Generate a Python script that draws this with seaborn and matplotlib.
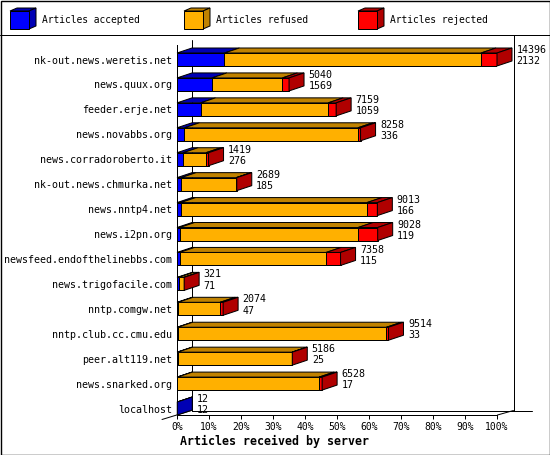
import matplotlib
matplotlib.use("Agg")
import matplotlib.pyplot as plt
from matplotlib.patches import Polygon, Rectangle
from matplotlib.lines import Line2D
import pandas as pd
import seaborn as sns

# ---------------- data ----------------
hosts = [
    "nk-out.news.weretis.net", "news.quux.org", "feeder.erje.net",
    "news.novabbs.org", "news.corradoroberto.it", "nk-out.news.chmurka.net",
    "news.nntp4.net", "news.i2pn.org", "newsfeed.endofthelinebbs.com",
    "news.trigofacile.com", "nntp.comgw.net", "nntp.club.cc.cmu.edu",
    "peer.alt119.net", "news.snarked.org", "localhost",
]
offered = [14396, 5040, 7159, 8258, 1419, 2689, 9013, 9028, 7358, 321, 2074, 9514, 5186, 6528, 12]
accepted = [2132, 1569, 1059, 336, 276, 185, 166, 119, 115, 71, 47, 33, 25, 17, 12]
rejected = [720, 300, 360, 120, 117, 30, 468, 880, 648, 5, 135, 90, 10, 135, 0]
refused = [o - a - r for o, a, r in zip(offered, accepted, rejected)]

tick_values = list(range(0, 101, 10))
tick_labels = [f"{v}%" for v in tick_values]
legend_labels = ["Articles accepted", "Articles refused", "Articles rejected"]
x_title = "Articles received by server"

front_colors = ["#0000FF", "#FFB000", "#FF0000"]
shade_colors = ["#0000B4", "#C08200", "#B00000"]

# ---------------- layout (pixels) ----------------
W, H = 550, 455
X0, X1 = 177, 497
Y_TOP, Y_BOT = 45, 415
ROW0, STEP = 59.5, 24.93
BAR_H_PX = 13
DX_PX, DY_PX = 15, -5
LW = 0.72

sns.set_style("white")
plt.rcParams["font.family"] = ["DejaVu Sans Mono", "DejaVu Sans"]

fig = plt.figure(figsize=(W / 100, H / 100), dpi=100, facecolor="white")

bg = fig.add_axes([0, 0, 1, 1])
bg.set_xlim(0, W)
bg.set_ylim(H, 0)
bg.axis("off")
bg.set_zorder(0)

ax = fig.add_axes([X0 / W, (H - Y_BOT) / H, (X1 - X0) / W, (Y_BOT - Y_TOP) / H])
ax.set_zorder(1)
ax.patch.set_alpha(0)

# ---------------- bars (front faces) ----------------
mx = max(offered)
pct_acc = [100 * a / mx for a in accepted]
pct_accref = [100 * (a + r) / mx for a, r in zip(accepted, refused)]
pct_tot = [100 * o / mx for o in offered]
df = pd.DataFrame({"host": hosts, "acc": pct_acc, "accref": pct_accref, "tot": pct_tot})

bw = BAR_H_PX / STEP
for col, c in zip(["tot", "accref", "acc"], [front_colors[2], front_colors[1], front_colors[0]]):
    sns.barplot(data=df, x=col, y="host", orient="h", color=c, saturation=1,
                edgecolor="black", linewidth=LW, width=bw, errorbar=None, ax=ax)

ax.set_xlim(0, 100)
ax.set_ylim((Y_BOT - ROW0) / STEP, (Y_TOP - ROW0) / STEP)

# ---------------- 3D faces ----------------
xpx = (X1 - X0) / 100.0
DXU = DX_PX / xpx
DYU = DY_PX / STEP
h2 = bw / 2
for i in range(len(hosts)):
    segs = [(0, pct_acc[i], 0), (pct_acc[i], pct_accref[i], 1), (pct_accref[i], pct_tot[i], 2)]
    last = None
    for a, b, k in segs:
        if b - a <= 1e-9:
            continue
        last = k
        yt = i - h2
        ax.add_patch(Polygon([(a, yt), (b, yt), (b + DXU, yt + DYU), (a + DXU, yt + DYU)],
                             closed=True, facecolor=shade_colors[k], edgecolor="black",
                             linewidth=LW, clip_on=False, zorder=3))
    e = pct_tot[i]
    yt, yb = i - h2, i + h2
    ax.add_patch(Polygon([(e, yt), (e + DXU, yt + DYU), (e + DXU, yb + DYU), (e, yb)],
                         closed=True, facecolor=shade_colors[last], edgecolor="black",
                         linewidth=LW, clip_on=False, zorder=3))
    lx = e + DXU + 4.5 / xpx
    ax.text(lx, i - 9.4 / STEP, str(offered[i]), ha="left", va="center", fontsize=7.2,
            color="black", clip_on=False)
    ax.text(lx, i + 1.7 / STEP, str(accepted[i]), ha="left", va="center", fontsize=7.2,
            color="black", clip_on=False)

# ---------------- axes styling ----------------
sns.despine(ax=ax, top=True, right=True)
for s in ["left", "bottom"]:
    ax.spines[s].set_color("black")
    ax.spines[s].set_linewidth(LW)
ax.set_xticks(tick_values)
ax.set_xticklabels(tick_labels)
ax.tick_params(axis="x", direction="out", length=3, width=LW, pad=2, labelsize=7,
               colors="black", bottom=True)
ax.tick_params(axis="y", length=0, pad=3.6, labelsize=7.2, colors="black")
ax.set_ylabel("")
ax.set_xlabel(x_title, fontweight="bold", fontsize=8.4, color="black")
ax.xaxis.label.set_va("center")
ax.xaxis.set_label_coords((274 - X0) / (X1 - X0), -(441 - Y_BOT) / (Y_BOT - Y_TOP))

# ---------------- frame / walls ----------------
def line(x0, y0, x1, y1):
    bg.add_line(Line2D([x0, x1], [y0, y1], color="black", linewidth=LW))

bg.add_patch(Rectangle((0.5, 0.5), W - 1, H - 1, fill=False, edgecolor="black", linewidth=LW * 1.4))
line(0, 34.5, W, 34.5)
line(191.5, 40, 191.5, 410.5)
line(191.5, 410.5, 532, 410.5)
line(513.5, 34.5, 513.5, 410.5)
line(162, 419.5, 191.5, 410.5)
line(497.5, 415, 513.5, 410.5)

# ---------------- legend ----------------
def cube(x, y, w, h, dx, dy, fc, sc):
    bg.add_patch(Polygon([(x, y), (x + w, y), (x + w + dx, y + dy), (x + dx, y + dy)],
                         closed=True, facecolor=sc, edgecolor="black", linewidth=LW))
    bg.add_patch(Polygon([(x + w, y), (x + w + dx, y + dy), (x + w + dx, y + h + dy), (x + w, y + h)],
                         closed=True, facecolor=sc, edgecolor="black", linewidth=LW))
    bg.add_patch(Rectangle((x, y), w, h, facecolor=fc, edgecolor="black", linewidth=LW))

leg_x = [10, 184, 358]
for lx, lab, fc, sc in zip(leg_x, legend_labels, front_colors, shade_colors):
    cube(lx, 11, 19, 18, 7, -3, fc, sc)
    bg.text(lx + 32, 20, lab, ha="left", va="center", fontsize=6.9, color="black")

fig.savefig("out.png", dpi=100, facecolor="white")
